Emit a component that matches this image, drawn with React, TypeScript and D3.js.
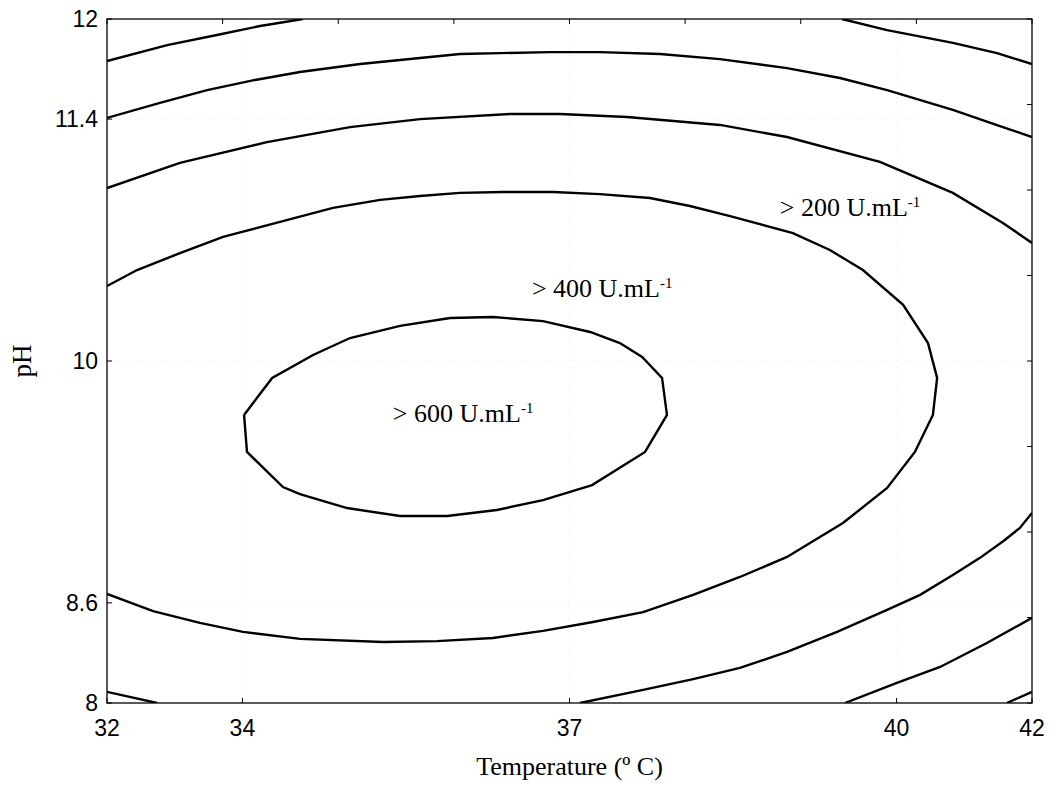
import React from "react";
import * as d3 from "d3";

// Coded factor levels (central composite design, alpha = 1.414)
const ALPHA = 1.414;
const xTickValues = [-1.414, -1, 0, 1, 1.414];
const xTickLabels = ["32", "34", "37", "40", "42"];
const yTickValues = [-1.414, -1, 0, 1, 1.414];
const yTickLabels = ["8", "8.6", "10", "11.4", "12"];

// Contour lines, in coded units [temperature, pH]
const contourA: [number, number][] = [
  [-1.414, 1.24], [-1.23, 1.306], [-1.078, 1.348], [-0.946, 1.385], [-0.815, 1.414],
];
const contourA2: [number, number][] = [
  [0.833, 1.414], [0.971, 1.368], [1.172, 1.315], [1.307, 1.273], [1.414, 1.228],
];
const contourB: [number, number][] = [
  [-1.414, 1.005], [-1.252, 1.067], [-1.108, 1.12], [-0.961, 1.162], [-0.824, 1.195],
  [-0.64, 1.228], [-0.457, 1.253], [-0.335, 1.269], [-0.212, 1.273], [-0.06, 1.277],
  [0.093, 1.277], [0.277, 1.269], [0.46, 1.248], [0.665, 1.211], [0.827, 1.17],
  [0.971, 1.12], [1.172, 1.038], [1.316, 0.971], [1.414, 0.926],
];
const contour200: [number, number][] = [
  [-1.414, 0.715], [-1.191, 0.819], [-0.925, 0.905], [-0.671, 0.967], [-0.457, 1.0],
  [-0.182, 1.021], [-0.029, 1.021], [0.176, 1.009], [0.46, 0.976], [0.665, 0.926],
  [0.949, 0.823], [1.172, 0.695], [1.325, 0.571], [1.414, 0.488],
];
const contour400: [number, number][] = [
  [-1.414, 0.31], [-1.322, 0.376], [-1.191, 0.446], [-1.059, 0.513], [-0.885, 0.575],
  [-0.723, 0.633], [-0.579, 0.666], [-0.457, 0.682], [-0.335, 0.695], [-0.203, 0.699],
  [-0.05, 0.699], [0.093, 0.69], [0.246, 0.674], [0.368, 0.641], [0.491, 0.599],
  [0.683, 0.529], [0.796, 0.459], [0.897, 0.376], [1.02, 0.232], [1.096, 0.074],
  [1.124, -0.07], [1.111, -0.223], [1.056, -0.376], [0.971, -0.525], [0.836, -0.67],
  [0.665, -0.81], [0.521, -0.893], [0.378, -0.967], [0.225, -1.038], [0.072, -1.079],
  [-0.081, -1.116], [-0.234, -1.145], [-0.405, -1.158], [-0.57, -1.162], [-0.824, -1.149],
  [-0.998, -1.12], [-1.13, -1.083], [-1.273, -1.034], [-1.414, -0.963],
];
const contour600: [number, number][] = [
  [-0.995, -0.223], [-0.986, -0.376], [-0.876, -0.521], [-0.824, -0.55], [-0.68, -0.608],
  [-0.518, -0.641], [-0.374, -0.641], [-0.222, -0.616], [-0.081, -0.575], [0.069, -0.513],
  [0.231, -0.376], [0.298, -0.223], [0.283, -0.07], [0.222, 0.017], [0.154, 0.074],
  [0.063, 0.12], [-0.081, 0.165], [-0.234, 0.182], [-0.365, 0.178], [-0.518, 0.145],
  [-0.671, 0.095], [-0.784, 0.025], [-0.909, -0.07], [-0.995, -0.223],
];
const contourF: [number, number][] = [[-1.414, -1.368], [-1.261, -1.414]];
const contourG: [number, number][] = [
  [0.032, -1.414], [0.225, -1.36], [0.378, -1.315], [0.521, -1.269], [0.665, -1.203],
  [0.818, -1.12], [0.971, -1.029], [1.072, -0.967], [1.172, -0.885], [1.255, -0.814],
  [1.331, -0.74], [1.377, -0.69], [1.414, -0.628],
];
const contourH: [number, number][] = [
  [0.842, -1.414], [1.001, -1.331], [1.133, -1.265], [1.276, -1.166], [1.414, -1.062],
];
const contourI: [number, number][] = [[1.337, -1.414], [1.414, -1.368]];

const contours = [
  contourA, contourA2, contourB, contour200, contour400, contour600,
  contourF, contourG, contourH, contourI,
];

// Region labels [temperature, pH] in coded units
const regionLabels = [
  { text: "> 600 U.mL", x: -0.54, y: -0.252 },
  { text: "> 400 U.mL", x: -0.115, y: 0.265 },
  { text: "> 200 U.mL", x: 0.643, y: 0.599 },
];

const W = 1049;
const H = 787;
const M = { left: 107, right: 17, top: 19, bottom: 84 };

export default function App() {
  const x = d3.scaleLinear().domain([-ALPHA, ALPHA]).range([M.left, W - M.right]);
  const y = d3.scaleLinear().domain([-ALPHA, ALPHA]).range([H - M.bottom, M.top]);
  const line = d3
    .line<[number, number]>()
    .x((d) => x(d[0]))
    .y((d) => y(d[1]))
    .curve(d3.curveLinear);

  const minorTicks = d3.range(9).map((i) => -ALPHA + (i * 2 * ALPHA) / 8);
  const x0 = x(-ALPHA), x1 = x(ALPHA), y0 = y(-ALPHA), y1 = y(ALPHA);
  const sans = "'Liberation Sans', Arial, sans-serif";
  const serif = "'Liberation Serif', 'Times New Roman', serif";

  return (
    <svg
      width={W}
      height={H}
      style={{ position: "absolute", left: 0, top: 0, background: "#fff" }}
    >
      <defs>
        <clipPath id="plot">
          <rect x={x0} y={y1} width={x1 - x0} height={y0 - y1} />
        </clipPath>
      </defs>

      {/* faint grid */}
      <g stroke="#ececec" strokeWidth={1} strokeDasharray="1,5">
        {xTickValues.slice(1, -1).map((v) => (
          <line key={"gx" + v} x1={x(v)} x2={x(v)} y1={y1} y2={y0} />
        ))}
        {yTickValues.slice(1, -1).map((v) => (
          <line key={"gy" + v} x1={x0} x2={x1} y1={y(v)} y2={y(v)} />
        ))}
      </g>

      {/* contours */}
      <g clipPath="url(#plot)" fill="none" stroke="#000" strokeWidth={2.4}>
        {contours.map((c, i) => (
          <path key={i} d={line(c) || ""} />
        ))}
      </g>

      {/* frame */}
      <rect x={x0} y={y1} width={x1 - x0} height={y0 - y1} fill="none" stroke="#000" strokeWidth={1.3} />

      {/* ticks */}
      <g stroke="#000" strokeWidth={1}>
        {xTickValues.map((v) => (
          <line key={"bx" + v} x1={x(v)} x2={x(v)} y1={y0} y2={y0 - 5} />
        ))}
        {yTickValues.map((v) => (
          <line key={"ly" + v} x1={x0} x2={x0 + 5} y1={y(v)} y2={y(v)} />
        ))}
        {minorTicks.map((v) => (
          <line key={"tx" + v} x1={x(v)} x2={x(v)} y1={y1} y2={y1 + 5} />
        ))}
        {minorTicks.map((v) => (
          <line key={"ry" + v} x1={x1} x2={x1 - 5} y1={y(v)} y2={y(v)} />
        ))}
      </g>

      {/* tick labels */}
      <g fontFamily={sans} fontSize={23} fill="#000">
        {xTickValues.map((v, i) => (
          <text key={"xl" + v} x={x(v)} y={736} textAnchor="middle">
            {xTickLabels[i]}
          </text>
        ))}
        {yTickValues.map((v, i) => (
          <text key={"yl" + v} x={98} y={y(v) + 8} textAnchor="end">
            {yTickLabels[i]}
          </text>
        ))}
      </g>

      {/* axis titles */}
      <text x={x(0)} y={775} textAnchor="middle" fontFamily={serif} fontSize={26} fill="#000">
        Temperature (º C)
      </text>
      <text
        transform={`translate(31, ${y(0)}) rotate(-90)`}
        textAnchor="middle"
        fontFamily={serif}
        fontSize={27}
        fill="#000"
      >
        pH
      </text>

      {/* region labels */}
      <g fontFamily={serif} fontSize={26} fill="#000">
        {regionLabels.map((l) => (
          <text key={l.text} x={x(l.x)} y={y(l.y)}>
            {l.text}
            <tspan fontSize={15} dy={-9}>-1</tspan>
          </text>
        ))}
      </g>
    </svg>
  );
}
